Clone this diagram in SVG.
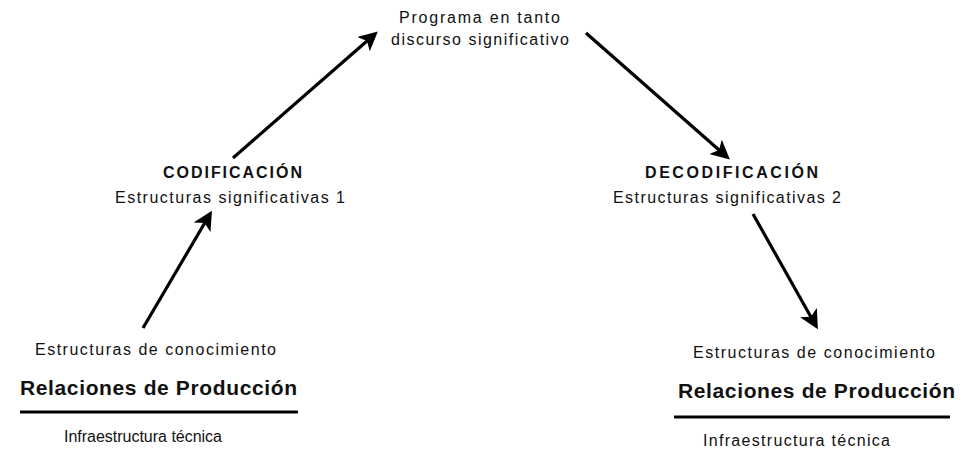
<svg xmlns="http://www.w3.org/2000/svg" width="973" height="451" viewBox="0 0 973 451">
<style>
text{font-family:"Liberation Sans",Arial,sans-serif;fill:#111;}
.r{font-size:16px;}
.b{font-size:16px;font-weight:bold;}
.h{font-size:21px;font-weight:bold;}
.c line{stroke:#000;stroke-width:3.2;marker-end:url(#ah);}
.u{stroke:#000;stroke-width:3;}
</style>
<defs>
<marker id="ah" viewBox="0 0 10 10" refX="8" refY="5" markerWidth="6" markerHeight="6" orient="auto" markerUnits="strokeWidth">
<path d="M0,0 L10,5 L0,10 L2.5,5 Z" fill="#000"/>
</marker>
</defs>
<rect width="973" height="451" fill="#fff"/>
<g id="programa">
<text class="r" x="399" y="23" textLength="161" lengthAdjust="spacing">Programa en tanto</text>
<text class="r" x="391" y="45" textLength="178" lengthAdjust="spacing">discurso significativo</text>
</g>
<g id="codificacion">
<text class="b" x="163" y="178" textLength="139" lengthAdjust="spacing">CODIFICACIÓN</text>
<text class="r" x="115" y="203" textLength="230" lengthAdjust="spacing">Estructuras significativas 1</text>
</g>
<g id="decodificacion">
<text class="b" x="645" y="178" textLength="173" lengthAdjust="spacing">DECODIFICACIÓN</text>
<text class="r" x="613" y="203" textLength="228" lengthAdjust="spacing">Estructuras significativas 2</text>
</g>
<g id="base-izq">
<text class="r" x="35" y="355" textLength="241" lengthAdjust="spacing">Estructuras de conocimiento</text>
<text class="h" x="20" y="395" textLength="277" lengthAdjust="spacing">Relaciones de Producción</text>
<line class="u" x1="20" y1="412" x2="298" y2="412"/>
<text class="r" x="64" y="442" textLength="158" lengthAdjust="spacing">Infraestructura técnica</text>
</g>
<g id="base-der">
<text class="r" x="693" y="358" textLength="242" lengthAdjust="spacing">Estructuras de conocimiento</text>
<text class="h" x="678" y="398" textLength="277" lengthAdjust="spacing">Relaciones de Producción</text>
<line class="u" x1="674" y1="417" x2="950" y2="417"/>
<text class="r" x="703" y="446" textLength="187" lengthAdjust="spacing">Infraestructura técnica</text>
</g>
<g id="conectores" class="c">
<line x1="143" y1="328" x2="210" y2="214"/>
<line x1="233" y1="158" x2="375" y2="34"/>
<line x1="586" y1="33" x2="727" y2="157"/>
<line x1="753" y1="214" x2="816" y2="326"/>
</g>
</svg>
